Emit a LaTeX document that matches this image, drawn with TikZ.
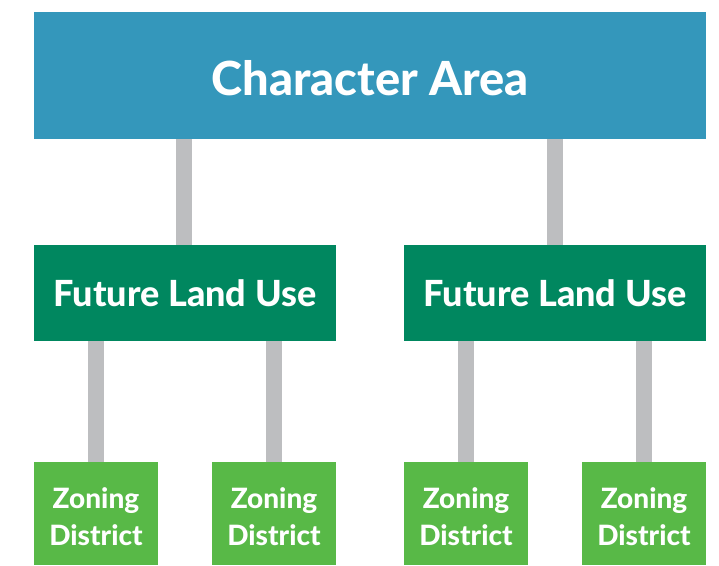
\documentclass[tikz,border=0pt]{standalone}
\usepackage{fontspec}
\setmainfont{Lato}[BoldFont={Lato Heavy}]
\definecolor{topblue}{HTML}{3497BB}
\definecolor{darkgreen}{HTML}{00875F}
\definecolor{lightgreen}{HTML}{58B947}
\definecolor{bargray}{HTML}{BDBEC0}
\begin{document}
\begin{tikzpicture}[x=1pt,y=-1pt,
  box/.style={rectangle,inner sep=0pt,outer sep=0pt,text=white,font=\bfseries,align=center},
  topbox/.style={box,fill=topblue,minimum width=672pt,minimum height=127pt},
  toptext/.style={box,font=\fontsize{47}{56}\selectfont\bfseries},
  flubox/.style={box,fill=darkgreen,minimum width=302pt,minimum height=96pt,font=\fontsize{36}{42}\selectfont\bfseries},
  zonebox/.style={box,fill=lightgreen,minimum width=124pt,minimum height=103pt},
  zonetext/.style={box,font=\fontsize{28}{37}\selectfont\bfseries},
  bar/.style={draw=bargray,line width=16pt}]
\useasboundingbox (0,0) rectangle (719,565);
\node[topbox] (ca) at (370,75.5) {};
\node[toptext] (cat) at (370,78) {Character Area};
\node[flubox] (f1) at (185,293) {Future Land Use};
\node[flubox] (f2) at (555,293) {Future Land Use};
\foreach \n/\x in {z1/96,z2/274,z3/466,z4/644}{
  \node[zonebox] (\n) at (\x,513.5) {};
  \node[zonetext] (\n t) at (\x,517) {Zoning\\District};
}
\draw[bar] (ca.south -| 184,0) -- (f1.north -| 184,0);
\draw[bar] (ca.south -| 555,0) -- (f2.north -| 555,0);
\draw[bar] (z1.north) -- (f1.south -| z1.north);
\draw[bar] (z2.north) -- (f1.south -| z2.north);
\draw[bar] (z3.north) -- (f2.south -| z3.north);
\draw[bar] (z4.north) -- (f2.south -| z4.north);
\end{tikzpicture}
\end{document}
